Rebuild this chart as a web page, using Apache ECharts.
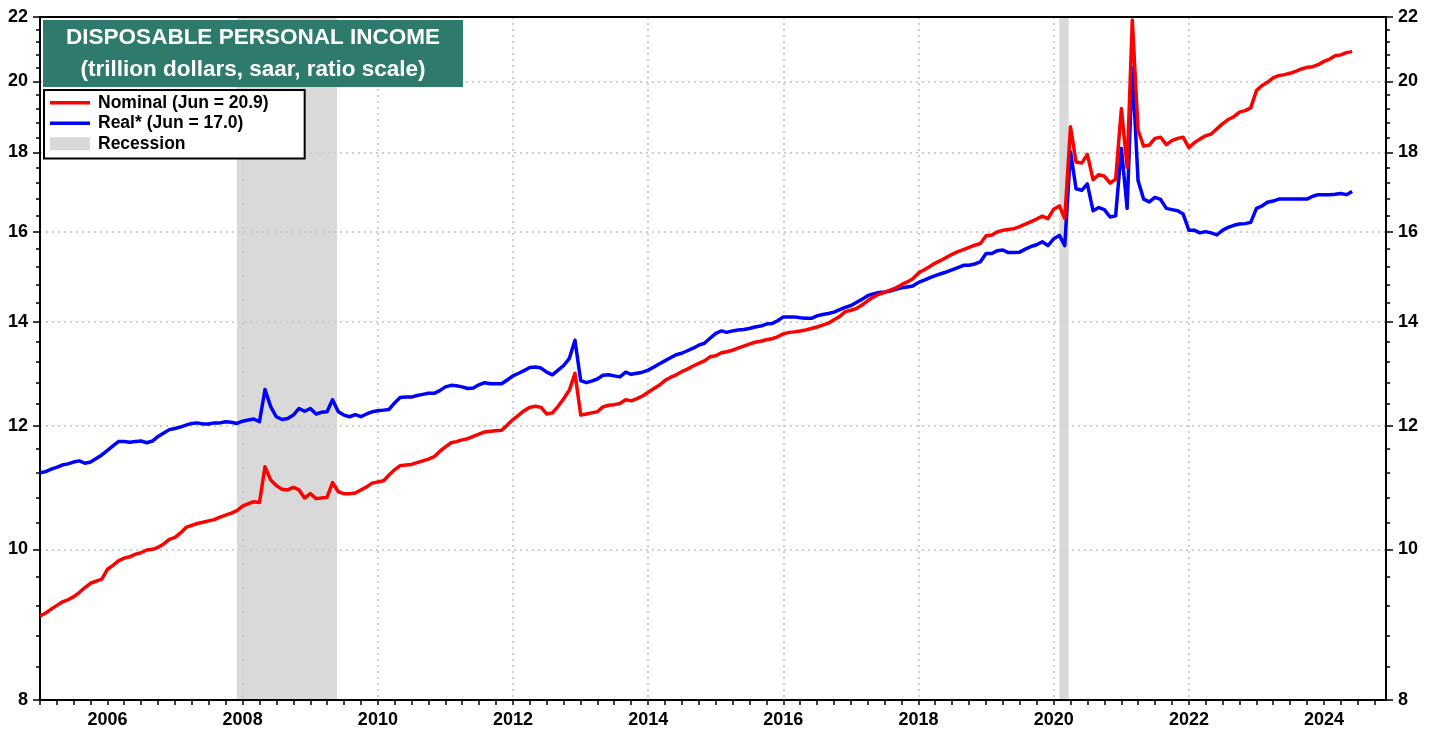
<!DOCTYPE html>
<html>
<head>
<meta charset="utf-8">
<title>Disposable Personal Income</title>
<script src="https://cdn.jsdelivr.net/npm/echarts@6/dist/echarts.min.js"></script>
<style>
  html, body { margin: 0; padding: 0; background: #fff; }
  #chart { width: 1439px; height: 733px; }
</style>
</head>
<body>
<div id="chart"></div>
<script>
// monthly values, Jan 2005 .. Jun 2024 (trillion dollars, saar)
var startYear = 2005;
var nominal = [
  9.06, 9.10, 9.15, 9.20, 9.25, 9.28, 9.32, 9.38, 9.45, 9.51, 9.54, 9.57,
  9.71, 9.77, 9.83, 9.87, 9.89, 9.93, 9.95, 9.99, 10.00, 10.03, 10.08, 10.15,
  10.18, 10.25, 10.33, 10.36, 10.39, 10.41, 10.43, 10.45, 10.49, 10.52, 10.55, 10.59,
  10.66, 10.70, 10.73, 10.72, 11.30, 11.08, 10.99, 10.93, 10.92, 10.96, 10.92, 10.79,
  10.86, 10.78, 10.79, 10.80, 11.04, 10.89, 10.86, 10.86, 10.87, 10.92, 10.97, 11.03,
  11.05, 11.07, 11.16, 11.25, 11.32, 11.33, 11.34, 11.37, 11.40, 11.43, 11.47, 11.56,
  11.64, 11.71, 11.73, 11.76, 11.78, 11.82, 11.86, 11.90, 11.91, 11.92, 11.93, 12.02,
  12.12, 12.20, 12.28, 12.34, 12.36, 12.34, 12.22, 12.24, 12.36, 12.50, 12.66, 12.98,
  12.20, 12.22, 12.24, 12.26, 12.35, 12.38, 12.39, 12.41, 12.48, 12.46, 12.50, 12.55,
  12.62, 12.69, 12.75, 12.84, 12.90, 12.95, 13.01, 13.06, 13.12, 13.17, 13.22, 13.30,
  13.32, 13.38, 13.40, 13.43, 13.47, 13.51, 13.55, 13.59, 13.61, 13.64, 13.66, 13.70,
  13.76, 13.79, 13.80, 13.82, 13.84, 13.87, 13.90, 13.94, 13.98, 14.05, 14.12, 14.22,
  14.25, 14.29, 14.36, 14.45, 14.53, 14.59, 14.63, 14.68, 14.73, 14.80, 14.86, 14.93,
  15.06, 15.13, 15.20, 15.28, 15.34, 15.41, 15.48, 15.54, 15.59, 15.64, 15.69, 15.73,
  15.91, 15.93, 16.00, 16.04, 16.06, 16.08, 16.13, 16.19, 16.25, 16.31, 16.38, 16.32,
  16.55, 16.63, 16.32, 18.70, 17.75, 17.72, 17.95, 17.29, 17.42, 17.38, 17.20, 17.30,
  19.21, 17.61, 21.90, 18.61, 18.17, 18.20, 18.38, 18.41, 18.21, 18.32, 18.38, 18.41,
  18.13, 18.27, 18.36, 18.45, 18.50, 18.64, 18.78, 18.90, 18.98, 19.11, 19.15, 19.23,
  19.73, 19.88, 19.97, 20.10, 20.17, 20.20, 20.24, 20.30, 20.37, 20.42, 20.44, 20.50,
  20.60, 20.67, 20.77, 20.80, 20.87, 20.90
];
var real = [
  11.20, 11.22, 11.26, 11.29, 11.33, 11.35, 11.38, 11.40, 11.36, 11.38, 11.44, 11.50,
  11.58, 11.66, 11.73, 11.73, 11.72, 11.73, 11.74, 11.71, 11.74, 11.82, 11.88, 11.94,
  11.96, 11.99, 12.02, 12.05, 12.06, 12.04, 12.04, 12.06, 12.06, 12.08, 12.07, 12.05,
  12.09, 12.11, 12.13, 12.08, 12.67, 12.35, 12.17, 12.12, 12.14, 12.20, 12.32, 12.27,
  12.32, 12.22, 12.25, 12.26, 12.48, 12.26, 12.20, 12.17, 12.21, 12.17, 12.22, 12.26,
  12.28, 12.29, 12.30, 12.42, 12.52, 12.53, 12.53, 12.56, 12.58, 12.60, 12.60, 12.65,
  12.72, 12.75, 12.74, 12.72, 12.69, 12.70, 12.76, 12.80, 12.78, 12.78, 12.78, 12.85,
  12.93, 12.98, 13.03, 13.09, 13.10, 13.08, 13.00, 12.95, 13.04, 13.13, 13.27, 13.63,
  12.84, 12.80, 12.83, 12.87, 12.94, 12.95, 12.93, 12.91, 13.00, 12.96, 12.98, 13.00,
  13.04, 13.10, 13.16, 13.22, 13.28, 13.34, 13.37, 13.42, 13.47, 13.53, 13.57, 13.67,
  13.77, 13.82, 13.79, 13.82, 13.84, 13.85, 13.87, 13.90, 13.92, 13.96, 13.97, 14.03,
  14.11, 14.11, 14.11, 14.09, 14.08, 14.08, 14.13, 14.16, 14.18, 14.21, 14.26, 14.31,
  14.35, 14.42, 14.48, 14.56, 14.60, 14.63, 14.64, 14.66, 14.70, 14.73, 14.75, 14.77,
  14.85, 14.90, 14.95, 15.00, 15.04, 15.08, 15.13, 15.18, 15.23, 15.23, 15.26, 15.31,
  15.50, 15.50, 15.56, 15.58, 15.52, 15.52, 15.53, 15.60, 15.66, 15.70, 15.77, 15.68,
  15.84, 15.92, 15.68, 18.02, 17.06, 17.02, 17.18, 16.51, 16.59, 16.54, 16.36, 16.39,
  18.11, 16.57, 20.42, 17.27, 16.80, 16.73, 16.84, 16.79, 16.57, 16.54, 16.51, 16.43,
  16.04, 16.04, 15.98, 16.01, 15.98, 15.93, 16.04, 16.11, 16.16, 16.19, 16.20, 16.23,
  16.57, 16.63, 16.72, 16.75, 16.80, 16.80, 16.80, 16.80, 16.80, 16.80, 16.87, 16.91,
  16.91, 16.91, 16.92, 16.94, 16.91, 16.99
];
// recession bands [start, end] as [year, month, day]
var recessions = [
  [[2007, 12, 1], [2009, 5, 25]],
  [[2020, 2, 1], [2020, 3, 22]]
];
var yTicks = [8, 10, 12, 14, 16, 18, 20, 22];
var xLabelYears = [2006, 2008, 2010, 2012, 2014, 2016, 2018, 2020, 2022, 2024];

var nominalName = 'Nominal (Jun = 20.9)';
var realName = 'Real* (Jun = 17.0)';
var font = '"Liberation Sans", Arial, sans-serif';

// ratio scale: plot natural log of values on a linear axis
var ln = Math.log;
var yMin = ln(8) - 1e-9, yMax = ln(22) + 1e-9;

// x values are UTC timestamps on a value axis
function ts (y, m, d) { return Date.UTC(y, m - 1, d || 1); }
var xMin = ts(2005, 1), xMax = ts(2024, 12);

function toSeries (arr) {
  return arr.map(function (v, i) {
    return [ts(startYear + Math.floor(i / 12), i % 12 + 1), ln(v)];
  });
}

var yMajor = yTicks.map(function (v) { return ln(v); });
var yMinor = [];
for (var k = 0; k <= 35; k++) yMinor.push(ln(8 + k * 0.4));
var xMajor = xLabelYears.map(function (y) { return ts(y, 1); });
var xMinor = [];
for (var yr = 2005; yr <= 2024; yr++) {
  [1, 4, 7, 10].forEach(function (m) { xMinor.push(ts(yr, m)); });
}

var labelFont = { color: '#000', fontFamily: font, fontWeight: 'bold', fontSize: 18 };
var gridLine = { show: true, showMinLine: false, showMaxLine: false,
  lineStyle: { color: '#cfcfcf', width: 2, type: [2, 4] } };

function yAxis (pos, major) {
  return {
    type: 'value', position: pos, min: yMin, max: yMax,
    axisLine: { show: major, lineStyle: { color: '#000', width: 2 } },
    axisTick: { show: true, length: major ? 7 : 4, customValues: major ? yMajor : yMinor,
      lineStyle: { color: '#000', width: 1.5 } },
    axisLabel: Object.assign({ show: major, customValues: yMajor, margin: 12,
      formatter: function (v) { return Math.round(Math.exp(v)); } }, labelFont),
    splitLine: major && pos === 'left' ? gridLine : { show: false }
  };
}

function xAxis (pos, kind) {
  return {
    type: 'value', position: pos, min: xMin, max: xMax,
    axisLine: { show: kind !== 'major', lineStyle: { color: '#000', width: 2 } },
    axisTick: { show: kind !== 'frame', length: 5, customValues: kind === 'major' ? xMajor : xMinor,
      lineStyle: { color: '#000', width: 1.5 } },
    axisLabel: Object.assign({ show: kind === 'major', customValues: xMajor, margin: 11, hideOverlap: false,
      formatter: function (v) { return new Date(v).getUTCFullYear(); } }, labelFont),
    splitLine: kind === 'major' ? gridLine : { show: false }
  };
}

var chart = echarts.init(document.getElementById('chart'));
chart.setOption({
  animation: false,
  grid: { left: 40, right: 53, top: 17, bottom: 33, show: true, borderColor: '#000', borderWidth: 2,
    containLabel: false, outerBoundsMode: 'none' },
  xAxis: [xAxis('bottom', 'minor'), xAxis('bottom', 'major'), xAxis('top', 'frame')],
  yAxis: [yAxis('left', true), yAxis('left', false), yAxis('right', true), yAxis('right', false)],
  legend: {
    left: 44, top: 90, orient: 'vertical', selectedMode: false,
    backgroundColor: '#fff', borderColor: '#000', borderWidth: 2,
    padding: [3, 36, 5, 6], itemGap: 1, itemWidth: 40, itemHeight: 13,
    itemStyle: { borderWidth: 0 },
    textStyle: { color: '#000', fontFamily: font, fontWeight: 'bold', fontSize: 17.5, lineHeight: 19.5,
      padding: [0, 0, 0, 3] },
    data: [
      { name: nominalName, icon: 'path://M0,0H40V3.5H0Z' },
      { name: realName, icon: 'path://M0,0H40V3.5H0Z' },
      { name: 'Recession', icon: 'rect' }
    ]
  },
  graphic: [
    { type: 'rect', left: 43, top: 20, z: 100, shape: { width: 420, height: 67 }, style: { fill: '#2e7b6e' } },
    { type: 'text', x: 253, y: 38, z: 101, style: { text: 'DISPOSABLE PERSONAL INCOME', fill: '#fff',
      font: 'bold 22.5px ' + font, textAlign: 'center', textVerticalAlign: 'middle' } },
    { type: 'text', x: 253, y: 70, z: 101, style: { text: '(trillion dollars, saar, ratio scale)', fill: '#fff',
      font: 'bold 22.5px ' + font, textAlign: 'center', textVerticalAlign: 'middle' } }
  ],
  series: [
    {
      name: 'Recession', type: 'line', data: [], color: '#d9d9d9',
      itemStyle: { color: '#d9d9d9' }, lineStyle: { color: '#d9d9d9' },
      markArea: {
        silent: true, z: -1,
        itemStyle: { color: '#d9d9d9' },
        data: recessions.map(function (r) {
          return [{ xAxis: ts(r[0][0], r[0][1], r[0][2]) }, { xAxis: ts(r[1][0], r[1][1], r[1][2]) }];
        })
      }
    },
    {
      name: realName, type: 'line', data: toSeries(real), symbol: 'none', color: '#0000ff',
      lineStyle: { color: '#0000ff', width: 3.5, join: 'round' }
    },
    {
      name: nominalName, type: 'line', data: toSeries(nominal), symbol: 'none', color: '#ff0000',
      lineStyle: { color: '#ff0000', width: 3.5, join: 'round' }
    }
  ]
});
</script>
</body>
</html>
